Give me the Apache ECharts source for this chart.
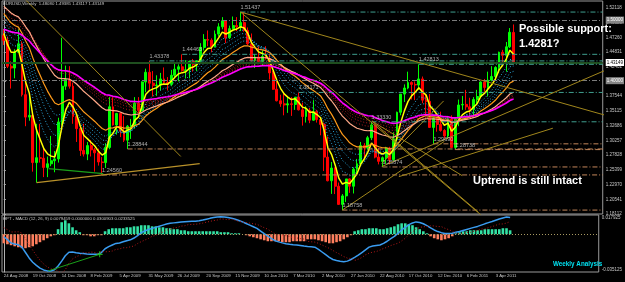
<!DOCTYPE html>
<html><head><meta charset="utf-8">
<script src="https://cdn.jsdelivr.net/npm/echarts@6/dist/echarts.min.js"></script>
<style>html,body{margin:0;padding:0;background:#000;}#c{width:625px;height:282px;}</style>
</head><body><div id="c"></div>
<script>
// ---- weekly EURUSD bars, 24 Aug 2008 .. 1 May 2011 ----
const open = [1.4760,1.4673,1.4250,1.4220,1.4480,1.4620,1.3780,1.3410,1.3440,1.2660,
1.2740,1.2730,1.2580,1.2640,1.2690,1.2720,1.3330,1.3920,1.4030,1.3920,
1.3420,1.3220,1.2860,1.2800,1.2940,1.2870,1.2820,1.2670,1.2660,1.2910,
1.3580,1.3280,1.3470,1.3180,1.3030,1.3260,1.3270,1.3640,1.3520,1.3990,
1.4150,1.3970,1.3930,1.3940,1.4040,1.3980,1.3950,1.4100,1.4200,1.4240,
1.4180,1.4190,1.4330,1.4280,1.4340,1.4560,1.4690,1.4680,1.4570,1.4780,
1.4900,1.5000,1.4720,1.4870,1.4920,1.4900,1.4970,1.4840,1.4620,1.4340,
1.4400,1.4330,1.4410,1.4380,1.4140,1.3870,1.3680,1.3630,1.3610,1.3630,
1.3620,1.3740,1.3530,1.3420,1.3520,1.3360,1.3500,1.3370,1.3290,1.2750,
1.2360,1.2570,1.2270,1.1970,1.2110,1.2390,1.2270,1.2550,1.2640,1.2940,
1.2900,1.3070,1.3280,1.2750,1.2680,1.2740,1.2900,1.2710,1.3050,1.3490,
1.3790,1.3890,1.3980,1.3950,1.3940,1.4040,1.3690,1.3670,1.3240,1.3400,
1.3290,1.3190,1.3100,1.3380,1.2910,1.3380,1.3610,1.3620,1.3580,1.3540,
1.3700,1.3750,1.3990,1.3900,1.4020,1.4080,1.4230,1.4480,1.4430,1.4570,
1.4808];
const high = [1.4867,1.4740,1.4330,1.4530,1.4867,1.4660,1.4030,1.3800,1.3460,1.3300,
1.3300,1.2890,1.2760,1.3100,1.2850,1.3400,1.4720,1.4260,1.4250,1.3980,
1.3500,1.3260,1.3300,1.3000,1.3030,1.2900,1.2890,1.2750,1.2980,1.3740,
1.3740,1.3480,1.3490,1.3430,1.3280,1.3380,1.3740,1.3740,1.4000,1.4210,
1.4338,1.4170,1.4100,1.4140,1.4230,1.4070,1.4190,1.4300,1.4280,1.4446,
1.4350,1.4340,1.4370,1.4340,1.4630,1.4780,1.4840,1.4710,1.4840,1.4960,
1.5060,1.5010,1.4920,1.5070,1.5060,1.5144,1.5140,1.4890,1.4790,1.4450,
1.4580,1.4510,1.4580,1.4450,1.4170,1.4040,1.3780,1.3800,1.3740,1.3740,
1.3740,1.3817,1.3650,1.3590,1.3560,1.3690,1.3530,1.3380,1.3320,1.3090,
1.2670,1.2580,1.2330,1.2140,1.2390,1.2400,1.2580,1.2720,1.3000,1.2980,
1.3100,1.3333,1.3290,1.2900,1.2760,1.2920,1.2920,1.3160,1.3500,1.3790,
1.3950,1.4160,1.4000,1.4000,1.4281,1.4080,1.3790,1.3790,1.3410,1.3420,
1.3500,1.3210,1.3430,1.3440,1.3390,1.3700,1.3760,1.3860,1.3730,1.3740,
1.3860,1.4000,1.4040,1.4160,1.4250,1.4250,1.4490,1.4520,1.4650,1.4880,
1.4939];
const low = [1.4600,1.4220,1.3881,1.4050,1.4480,1.3750,1.3260,1.3350,1.2510,1.2330,
1.2660,1.2420,1.2420,1.2600,1.2500,1.2660,1.3280,1.3860,1.3880,1.3300,
1.3000,1.2770,1.2760,1.2700,1.2760,1.2510,1.2610,1.2456,1.2570,1.2880,
1.3270,1.3120,1.3080,1.3000,1.2884,1.3050,1.3220,1.3430,1.3500,1.3820,
1.3860,1.3750,1.3760,1.3850,1.3950,1.3850,1.3920,1.4060,1.4000,1.4160,
1.4050,1.4050,1.4160,1.4170,1.4320,1.4510,1.4580,1.4480,1.4560,1.4740,
1.4860,1.4630,1.4700,1.4860,1.4830,1.4830,1.4820,1.4600,1.4330,1.4220,
1.4320,1.4260,1.4360,1.4030,1.3860,1.3670,1.3580,1.3440,1.3480,1.3430,
1.3530,1.3520,1.3270,1.3320,1.3310,1.3350,1.3320,1.3110,1.2520,1.2350,
1.2143,1.2140,1.1960,1.1876,1.2010,1.2160,1.2150,1.2470,1.2620,1.2710,
1.2870,1.3030,1.2730,1.2630,1.2587,1.2640,1.2630,1.2690,1.3010,1.3440,
1.3660,1.3870,1.3700,1.3690,1.3860,1.3640,1.3450,1.3230,1.2969,1.3170,
1.3170,1.3060,1.3060,1.2900,1.2874,1.3260,1.3530,1.3530,1.3430,1.3430,
1.3620,1.3740,1.3830,1.3750,1.4000,1.4010,1.4140,1.4300,1.4160,1.4550,
1.4312];
const close = [1.4673,1.4250,1.4220,1.4480,1.4620,1.3780,1.3410,1.3440,1.2660,1.2740,
1.2730,1.2580,1.2640,1.2690,1.2720,1.3330,1.3920,1.4030,1.3920,1.3420,
1.3220,1.2860,1.2800,1.2940,1.2870,1.2820,1.2670,1.2660,1.2910,1.3580,
1.3280,1.3470,1.3180,1.3030,1.3260,1.3270,1.3640,1.3520,1.3990,1.4150,
1.3970,1.3930,1.3940,1.4040,1.3980,1.3950,1.4100,1.4200,1.4240,1.4180,
1.4190,1.4330,1.4280,1.4340,1.4560,1.4690,1.4680,1.4570,1.4780,1.4900,
1.5000,1.4720,1.4870,1.4920,1.4900,1.4970,1.4840,1.4620,1.4340,1.4400,
1.4330,1.4410,1.4380,1.4140,1.3870,1.3680,1.3630,1.3610,1.3630,1.3620,
1.3740,1.3530,1.3420,1.3520,1.3360,1.3500,1.3370,1.3290,1.2750,1.2360,
1.2570,1.2270,1.1970,1.2110,1.2390,1.2270,1.2550,1.2640,1.2940,1.2900,
1.3070,1.3280,1.2750,1.2680,1.2740,1.2900,1.2710,1.3050,1.3490,1.3790,
1.3890,1.3980,1.3950,1.3940,1.4040,1.3690,1.3670,1.3240,1.3400,1.3290,
1.3190,1.3100,1.3380,1.2910,1.3380,1.3610,1.3620,1.3580,1.3540,1.3700,
1.3750,1.3990,1.3900,1.4020,1.4080,1.4230,1.4480,1.4430,1.4570,1.4810,
1.4315];
const lastClose = 1.43149;

// MACD line
const macd = [-0.0023,-0.0050,-0.0081,-0.0090,-0.0098,-0.0120,-0.0170,-0.0220,-0.0260,-0.0290,
-0.0315,-0.0332,-0.0341,-0.0342,-0.0330,-0.0295,-0.0250,-0.0200,-0.0168,-0.0165,
-0.0172,-0.0177,-0.0180,-0.0183,-0.0185,-0.0187,-0.0187,-0.0170,-0.0135,-0.0115,
-0.0100,-0.0085,-0.0081,-0.0070,-0.0060,-0.0052,-0.0035,-0.0012,0.0015,0.0030,
0.0045,0.0055,0.0064,0.0075,0.0085,0.0095,0.0102,0.0106,0.0110,0.0113,
0.0116,0.0118,0.0120,0.0121,0.0125,0.0132,0.0140,0.0148,0.0155,0.0160,
0.0162,0.0160,0.0155,0.0150,0.0140,0.0128,0.0115,0.0100,0.0085,0.0070,
0.0055,0.0030,0.0005,-0.0018,-0.0040,-0.0060,-0.0071,-0.0080,-0.0088,-0.0094,
-0.0098,-0.0100,-0.0105,-0.0110,-0.0114,-0.0117,-0.0120,-0.0140,-0.0165,-0.0190,
-0.0215,-0.0235,-0.0245,-0.0252,-0.0255,-0.0250,-0.0235,-0.0216,-0.0195,-0.0170,
-0.0145,-0.0120,-0.0110,-0.0105,-0.0100,-0.0085,-0.0065,-0.0040,-0.0020,0.0010,
0.0040,0.0065,0.0090,0.0105,0.0115,0.0110,0.0098,0.0080,0.0060,0.0040,
0.0025,0.0015,0.0008,0.0006,0.0010,0.0018,0.0025,0.0035,0.0045,0.0055,
0.0064,0.0073,0.0085,0.0097,0.0108,0.0118,0.0130,0.0142,0.0152,0.0160,
0.0155];
// MACD histogram
const hist = [-0.0084,-0.0093,-0.0102,-0.0112,-0.0121,-0.0130,-0.0130,-0.0121,-0.0112,-0.0093,
-0.0074,-0.0056,-0.0037,-0.0019,-0.0009,0.0047,0.0112,0.0130,0.0102,0.0065,
0.0037,0.0019,-0.0009,-0.0009,-0.0019,-0.0019,-0.0009,-0.0009,0.0028,0.0047,
0.0056,0.0056,0.0056,0.0056,0.0065,0.0065,0.0074,0.0074,0.0084,0.0084,
0.0084,0.0074,0.0074,0.0065,0.0065,0.0056,0.0056,0.0047,0.0047,0.0037,
0.0037,0.0028,0.0028,0.0028,0.0028,0.0028,0.0028,0.0028,0.0028,0.0028,
0.0019,0.0019,0.0019,0.0009,0.0009,0.0009,0.0000,-0.0009,-0.0019,-0.0028,
-0.0037,-0.0047,-0.0056,-0.0065,-0.0065,-0.0065,-0.0065,-0.0074,-0.0074,-0.0074,
-0.0065,-0.0065,-0.0065,-0.0065,-0.0047,-0.0047,-0.0047,-0.0056,-0.0065,-0.0074,
-0.0084,-0.0084,-0.0074,-0.0065,-0.0047,-0.0028,-0.0009,0.0028,0.0037,0.0047,
0.0047,0.0056,0.0056,0.0056,0.0047,0.0047,0.0056,0.0065,0.0074,0.0093,
0.0102,0.0102,0.0093,0.0084,0.0065,0.0047,0.0028,0.0009,-0.0019,-0.0037,
-0.0047,-0.0056,-0.0047,-0.0037,-0.0019,0.0009,0.0019,0.0028,0.0028,0.0037,
0.0037,0.0037,0.0037,0.0047,0.0047,0.0047,0.0047,0.0047,0.0056,0.0056,
0.0037];

const tickLabels = ['24 Aug 2008','19 Oct 2008','14 Dec 2008','8 Feb 2009','5 Apr 2009','31 May 2009',
'26 Jul 2009','20 Sep 2009','15 Nov 2009','10 Jan 2010','7 Mar 2010','2 May 2010','27 Jun 2010',
'22 Aug 2010','17 Oct 2010','12 Dec 2010','6 Feb 2011','3 Apr 2011'];

// moving averages: periods and their starting values read at the left edge
const maPeriods = [5, 21, 34, 55];
const maSeeds = [1.479, 1.512, 1.524, 1.486];
const blueBandPeriods = [8, 11, 14, 17];
const blueBandSeeds = [1.486, 1.494, 1.501, 1.507];
const redBandPeriods = [39, 43, 47, 51];
const redBandSeeds = [1.520, 1.512, 1.503, 1.494];

// horizontal price levels (price, starting bar)
const levelPrice = [1.51437,1.44463,1.43378,1.38171,1.33330,1.42813,1.29690,1.28844,1.28738,1.25874,1.24560,1.18758];
const levelStart = [65,49,40,81,101,114,118,34,124,104,27,93];
const roundLevels = [1.50000, 1.40000];

// trend lines [bar, price] -> [bar, price]
const trendFrom = [[6,1.5344],[65,1.5144],[65,1.5144],[93,1.1876],[108.5,1.2427],[103.8,1.2594],[103.8,1.2644],[101.1,1.3344],[101.1,1.3344]];
const trendTo   = [[48.6,1.2761],[165,1.3444],[131.1,1.1794],[121,1.3010],[150.8,1.3227],[165,1.4177],[120.8,1.3677],[130.3,1.1844],[125.9,1.2444]];
const supportFrom = [9,1.2330], supportTo = [53.8,1.2644];
const greenFrom = [12.3,1.2560], greenTo = [27.3,1.2477];
const macdGreenFrom = [12.3,-0.0341], macdGreenTo = [26.5,-0.0187];

// ---- build ----
const B = 1.18112;          // price axis origin (bottom tick)
const N = 165;              // bar slots incl. right shift
const cats = Array.from({length:N}, (_, i) => String(i));
function ema(src, period, seed) {
  const k = 2 / (period + 1); const out = []; let prev = seed;
  for (let i = 0; i < src.length; i++) { prev = i === 0 ? seed : k * src[i] + (1 - k) * prev; out.push(prev); }
  return out;
}
const sh = arr => arr.map(v => +(v - B).toFixed(6));
const candles = open.map((o, i) => [o - B, close[i] - B, low[i] - B, high[i] - B]);
const signal = macd.map((m, i) => +(m - hist[i]).toFixed(6));   // histogram = MACD - signal

const FONT = 'Liberation Sans';
const series = [];
series.push({
  type: 'candlestick', xAxisIndex: 0, yAxisIndex: 0, data: candles, barWidth: 2.4, z: 2,
  itemStyle: { color: '#00ff00', color0: '#ff0000', borderColor: '#00ff00', borderColor0: '#ff0000', borderWidth: 1 },
  markLine: {
    silent: true, symbol: ['none', 'none'], animation: false,
    data: [
      { yAxis: lastClose - B, lineStyle: { color: '#1f4f1f', width: 2, type: 'solid' },
        label: { show: true, position: 'end', distance: 3, formatter: lastClose.toFixed(5), color: '#000', backgroundColor: '#ffffff', fontSize: 4.5, fontFamily: FONT, padding: [1, 1] } },
      ...roundLevels.map(p => ({ yAxis: p - B, lineStyle: { color: '#7c7c7c', width: 1, type: [5, 2, 1, 2] },
        label: { show: true, position: 'end', distance: 3, formatter: p.toFixed(5), color: '#fff', backgroundColor: '#858585', fontSize: 4.5, fontFamily: FONT, padding: [1, 1] } }))
    ]
  }
});
function addMA(periods, seeds, style, z) {
  periods.forEach((p, k) => {
    series.push({ type: 'line', xAxisIndex: 0, yAxisIndex: 0, data: sh(ema(close, p, seeds[k])), symbol: 'none', z: z,
      lineStyle: Object.assign({}, Array.isArray(style) ? style[k] : style) });
  });
}
addMA(blueBandPeriods, blueBandSeeds, { color: '#2ba8dc', width: 1, type: [1, 2] }, 3);
addMA(redBandPeriods, redBandSeeds, { color: '#b3191e', width: 1, type: [1, 2] }, 3);
addMA(maPeriods, maSeeds, [
  { color: '#ffff00', width: 1.5 }, { color: '#ff9c1a', width: 1.2 }, { color: '#ffa888', width: 1.2 }, { color: '#ff00ff', width: 1.6 }
], 4);

// levels
levelPrice.forEach((p, k) => {
  const teal = k < 6;
  series.push({ type: 'line', xAxisIndex: 1, yAxisIndex: 0, symbol: 'none', z: 5,
    data: [[levelStart[k], p - B], [164.5, p - B]],
    lineStyle: { color: teal ? '#3f9e8e' : '#c4875a', width: 1, type: [5, 2, 1, 2] } });
});
series.push({ type: 'scatter', xAxisIndex: 1, yAxisIndex: 0, symbolSize: 1, z: 6, itemStyle: { color: 'rgba(0,0,0,0)' },
  data: levelPrice.map((p, k) => ({ value: [levelStart[k], p - B], label: { formatter: p.toFixed(5) } })),
  label: { show: true, position: 'top', align: 'left', distance: 1, color: '#d8d8d8', fontSize: 5.5, fontFamily: FONT } });
// trend lines
trendFrom.forEach((a, k) => {
  const b = trendTo[k];
  series.push({ type: 'line', xAxisIndex: 1, yAxisIndex: 0, symbol: 'none', z: 5, clip: true,
    data: [[a[0], a[1] - B], [b[0], b[1] - B]], lineStyle: { color: '#a0861c', width: 1 } });
});
series.push({ type: 'line', xAxisIndex: 1, yAxisIndex: 0, symbol: 'none', z: 5,
  data: [[supportFrom[0], supportFrom[1] - B], [supportTo[0], supportTo[1] - B]], lineStyle: { color: '#b8912a', width: 1.2 } });
series.push({ type: 'line', xAxisIndex: 1, yAxisIndex: 0, symbol: 'none', z: 5,
  data: [[greenFrom[0], greenFrom[1] - B], [greenTo[0], greenTo[1] - B]], lineStyle: { color: '#1aa01a', width: 1.2 } });

// MACD panel
series.push({ type: 'bar', xAxisIndex: 2, yAxisIndex: 1, barWidth: 2.6, z: 2,
  data: hist.map(v => ({ value: v, itemStyle: { color: v >= 0 ? '#33e3a5' : '#ff7f5e' } })),
  markLine: { silent: true, symbol: ['none', 'none'], label: { show: false },
    data: [{ yAxis: 0 }], lineStyle: { color: '#a89a62', width: 1, type: [1, 2] } } });
series.push({ type: 'line', xAxisIndex: 2, yAxisIndex: 1, symbol: 'none', z: 3, data: macd, lineStyle: { color: '#3a9cf0', width: 1.5 } });
series.push({ type: 'line', xAxisIndex: 2, yAxisIndex: 1, symbol: 'none', z: 3, data: signal, lineStyle: { color: '#b01818', width: 1, type: [1, 2] } });
series.push({ type: 'line', xAxisIndex: 3, yAxisIndex: 1, symbol: 'none', z: 4,
  data: [macdGreenFrom, macdGreenTo], lineStyle: { color: '#1aa01a', width: 1 } });
series.push({ type: 'scatter', xAxisIndex: 3, yAxisIndex: 1, z: 5, symbol: 'path://M4,0h2v4h4v2h-4v4h-2v-4h-4v-2h4z', symbolSize: 6,
  itemStyle: { color: '#22cc22' }, data: [macdGreenTo] });

const macdMin = -0.035125, macdMax = 0.017925;
const option = {
  backgroundColor: '#000', animation: false,
  grid: [
    { left: 2, right: 19, top: 1, height: 213, show: true, borderColor: '#9a9a9a', borderWidth: 1 },
    { left: 2, right: 19, top: 215, height: 57, show: true, borderColor: '#9a9a9a', borderWidth: 1 }
  ],
  xAxis: [
    { type: 'category', gridIndex: 0, data: cats, show: false },
    { type: 'value', gridIndex: 0, min: -0.5, max: 164.5, show: false },
    { type: 'category', gridIndex: 1, data: cats, axisLine: { show: false }, axisTick: { show: false },
      axisLabel: { interval: 0, align: 'left', fontSize: 4.3, color: '#c8c8c8', margin: 2, fontFamily: FONT,
        formatter: v => { const i = +v; return (i % 8 === 0 && i / 8 < tickLabels.length) ? tickLabels[i / 8] : ''; } } },
    { type: 'value', gridIndex: 1, min: -0.5, max: 164.5, show: false }
  ],
  yAxis: [
    { type: 'value', gridIndex: 0, position: 'right', min: 0, max: 0.3515, interval: 0.02429, scale: false,
      splitLine: { show: false }, axisLine: { show: true, lineStyle: { color: '#b0b0b0' } },
      axisTick: { show: true, length: 2, lineStyle: { color: '#b0b0b0' } },
      axisLabel: { showMaxLabel: false, color: '#c8c8c8', fontSize: 4.5, margin: 3, fontFamily: FONT, formatter: v => (v + B).toFixed(5) } },
    { type: 'value', gridIndex: 1, position: 'right', min: macdMin, max: macdMax, interval: macdMax,
      splitLine: { show: false }, axisLine: { show: true, lineStyle: { color: '#b0b0b0' } }, axisTick: { show: false },
      axisLabel: { color: '#c8c8c8', fontSize: 4.5, margin: 3, fontFamily: FONT,
        formatter: v => Math.abs(v - macdMax) < 1e-7 ? '{t|0.017925}' : Math.abs(v) < 1e-7 ? '0.00' : Math.abs(v - macdMin) < 1e-7 ? '{b|-0.035125}' : '',
        rich: { t: { padding: [6, 0, 0, 0], fontSize: 4.5, color: '#c8c8c8' }, b: { padding: [0, 0, 5, 0], fontSize: 4.5, color: '#c8c8c8' } } } }
  ],
  graphic: [
    { type: 'text', left: 3, top: 2, z: 10, style: { text: 'EURUSD,Weekly  1.48080 1.49385 1.43117 1.43149', fill: '#c8c8c8', font: '4.3px "Liberation Sans"' } },
    { type: 'text', left: 3, top: 217, z: 10, style: { text: 'HPT - MACD (12, 26, 9) 0.0079459 0.0000000 0.0300903 0.0233525', fill: '#c8c8c8', font: '4.3px "Liberation Sans"' } },
    { type: 'text', left: 519, top: 23, z: 10, style: { text: 'Possible support:', fill: '#ffffff', font: 'bold 11px "Liberation Sans"' } },
    { type: 'text', left: 519, top: 38, z: 10, style: { text: '1.4281?', fill: '#ffffff', font: 'bold 11px "Liberation Sans"' } },
    { type: 'text', left: 473, top: 175, z: 10, style: { text: 'Uptrend is still intact', fill: '#ffffff', font: 'bold 11px "Liberation Sans"' } },
    { type: 'text', left: 553, top: 261, z: 10, style: { text: 'Weekly Analysis', fill: '#00e0f0', font: 'bold 6.3px "Liberation Sans"' } }
  ],
  series: series
};
const chart = echarts.init(document.getElementById('c'), null, { renderer: 'canvas' });
chart.setOption(option);
</script></body></html>
